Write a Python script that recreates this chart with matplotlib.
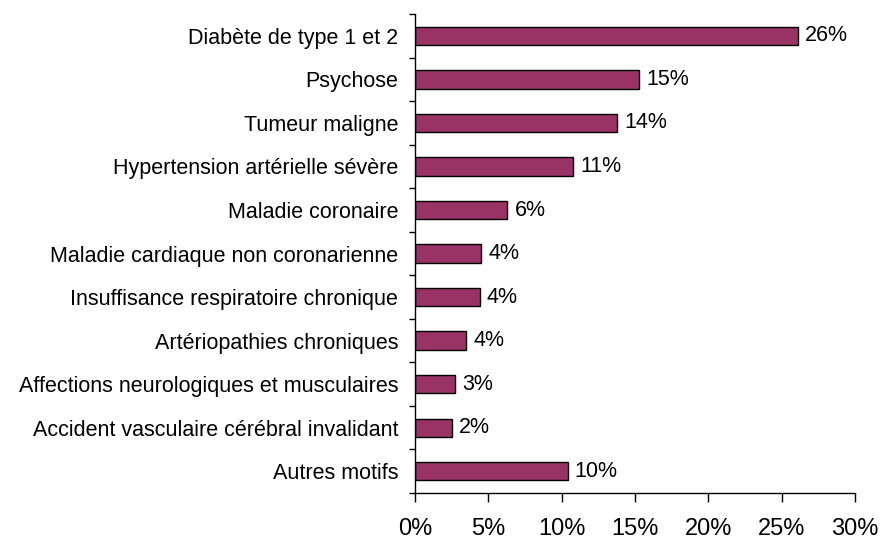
import matplotlib
matplotlib.use("Agg")
import matplotlib.pyplot as plt
import numpy as np

categories = [
    "Diabète de type 1 et 2",
    "Psychose",
    "Tumeur maligne",
    "Hypertension artérielle sévère",
    "Maladie coronaire",
    "Maladie cardiaque non coronarienne",
    "Insuffisance respiratoire chronique",
    "Artériopathies chroniques",
    "Affections neurologiques et musculaires",
    "Accident vasculaire cérébral invalidant",
    "Autres motifs",
]
values = [26.1, 15.3, 13.8, 10.8, 6.3, 4.5, 4.4, 3.5, 2.7, 2.5, 10.4]
value_labels = ["26%", "15%", "14%", "11%", "6%", "4%", "4%", "4%", "3%", "2%", "10%"]
x_ticks = [0, 5, 10, 15, 20, 25, 30]

plt.rcParams['font.family'] = ['Liberation Sans', 'DejaVu Sans']

fig = plt.figure(figsize=(8.8, 5.42), dpi=100)
ax = fig.add_axes([0.4716, 0.0904, 0.5, 0.8836])

y = np.arange(len(categories))
ax.barh(y, values, height=0.42, color='#993366', edgecolor='black', linewidth=1)

for yi, v, lab in zip(y, values, value_labels):
    ax.text(v + 0.5, yi, lab, va='center', ha='left', fontsize=15.5)

ax.set_xlim(0, 30)
ax.set_ylim(len(categories) - 0.5, -0.5)

ax.set_yticks(y)
ax.set_yticklabels(categories, fontsize=15.5)
ax.tick_params(axis='y', which='major', length=0, pad=12)
ax.set_yticks(np.arange(len(categories) + 1) - 0.5, minor=True)
ax.tick_params(axis='y', which='minor', length=4, width=1, direction='out')

ax.set_xticks(x_ticks)
ax.set_xticklabels([f"{t}%" for t in x_ticks], fontsize=17)
ax.tick_params(axis='x', length=6.5, width=1, direction='out', pad=11.5)

for s in ['top', 'right']:
    ax.spines[s].set_visible(False)
for s in ['left', 'bottom']:
    ax.spines[s].set_linewidth(1)

fig.savefig("out.png", dpi=100)
